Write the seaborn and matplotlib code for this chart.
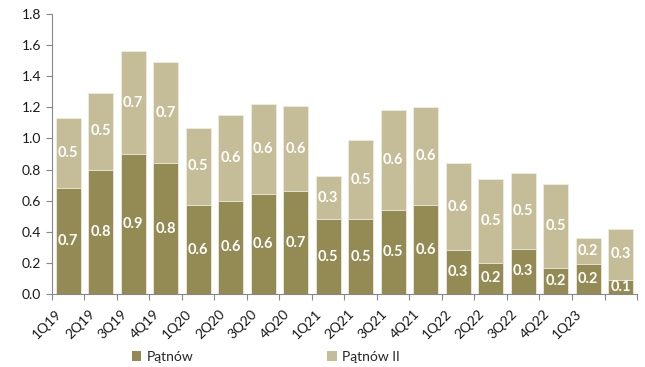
import matplotlib
matplotlib.use("Agg")
import matplotlib.pyplot as plt
import matplotlib.transforms as mtransforms
from matplotlib.patches import Patch
import seaborn as sns
import pandas as pd
import numpy as np

categories = ["1Q19", "2Q19", "3Q19", "4Q19", "1Q20", "2Q20", "3Q20", "4Q20",
              "1Q21", "2Q21", "3Q21", "4Q21", "1Q22", "2Q22", "3Q22", "4Q22",
              "1Q23", "2Q23"]
tick_labels = ["1Q19", "2Q19", "3Q19", "4Q19", "1Q20", "2Q20", "3Q20", "4Q20",
               "1Q21", "2Q21", "3Q21", "4Q21", "1Q22", "2Q22", "3Q22", "4Q22",
               "1Q23", ""]
patnow = [0.68, 0.80, 0.90, 0.84, 0.57, 0.60, 0.64, 0.66, 0.48, 0.48, 0.54, 0.57,
          0.28, 0.20, 0.29, 0.17, 0.19, 0.09]
patnow_ii = [0.45, 0.49, 0.66, 0.65, 0.50, 0.55, 0.58, 0.55, 0.28, 0.51, 0.64, 0.63,
             0.56, 0.54, 0.49, 0.54, 0.17, 0.33]
series_names = ["Pątnów", "Pątnów II"]
colors = ["#948A54", "#C4BD97"]

sns.set_theme(style="white")
plt.rcParams['font.family'] = ['Lato', 'DejaVu Sans']

df = pd.DataFrame({"cat": categories, "p1": patnow, "p2": patnow_ii})
df["total"] = df["p1"] + df["p2"]

fig = plt.figure(figsize=(6.45, 3.67), dpi=100)
ax = fig.add_axes([0.0806, 0.199, 0.907, 0.763])

sns.barplot(data=df, x="cat", y="total", color=colors[1], saturation=1, width=0.76,
            edgecolor="#EEEBE0", linewidth=0.6, ax=ax, order=categories)
sns.barplot(data=df, x="cat", y="p1", color=colors[0], saturation=1, width=0.76,
            edgecolor="#EEEBE0", linewidth=0.6, ax=ax, order=categories)

for i in range(len(categories)):
    b = patnow[i]
    t = patnow_ii[i]
    ax.text(i, b / 2, f"{b:.1f}", ha="center", va="center", color="white",
            fontsize=10.5, fontweight="bold")
    ax.text(i, b + t / 2, f"{t:.1f}", ha="center", va="center", color="white",
            fontsize=10.5, fontweight="bold")

ax.set_xlim(-0.5, len(categories) - 0.5)
ax.set_ylim(0, 1.8)
ax.set_yticks(np.arange(0, 1.81, 0.2))
ax.set_yticklabels([f"{v:.1f}" for v in np.arange(0, 1.81, 0.2)], fontsize=10, color="#1a1a1a")
ax.set_xticks(range(len(categories)))
ax.set_xticklabels(tick_labels, rotation=45, ha="right", rotation_mode="anchor",
                   fontsize=10, color="#1a1a1a")
ax.set_xticks(np.arange(-0.5, len(categories), 1), minor=True)
ax.tick_params(axis="x", which="major", length=0, pad=10)
ax.tick_params(axis="x", which="minor", length=4, color="#888888", width=0.8, direction="out", bottom=True)
ax.tick_params(axis="y", which="major", length=4, color="#888888", width=0.8, direction="out", left=True, pad=4)
offset = mtransforms.ScaledTranslation(-9 / 72, 0, fig.dpi_scale_trans)
for lab in ax.get_xticklabels():
    lab.set_transform(lab.get_transform() + offset)

ax.set_xlabel("")
ax.set_ylabel("")
for s in ["top", "right"]:
    ax.spines[s].set_visible(False)
for s in ["left", "bottom"]:
    ax.spines[s].set_color("#888888")
    ax.spines[s].set_linewidth(0.8)
ax.grid(False)

handles = [Patch(facecolor=colors[0], edgecolor="none"), Patch(facecolor=colors[1], edgecolor="none")]
fig.legend(handles, series_names, loc="center", bbox_to_anchor=(0.412, 0.027), ncol=2,
           frameon=False, fontsize=10, handlelength=0.7, handleheight=0.7,
           handletextpad=0.4, columnspacing=9.6)

fig.savefig("out.png", dpi=100)
